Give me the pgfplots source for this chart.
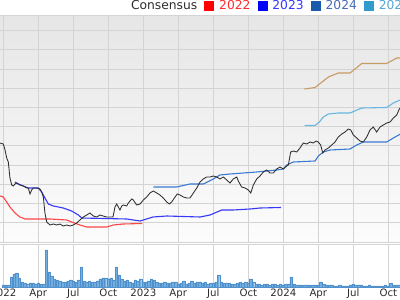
\documentclass[border=0pt]{standalone}
\usepackage{pgfplots}
\pgfplotsset{compat=1.18}
\usepackage{fontspec}
\setmainfont{DejaVu Sans}
\definecolor{gcol}{RGB}{212,212,212}
\definecolor{bgtop}{RGB}{230,230,230}
\definecolor{bgbot}{RGB}{252,252,252}
\definecolor{txt}{RGB}{45,45,45}
\definecolor{l22}{RGB}{255,70,70}
\definecolor{l23}{RGB}{55,55,250}
\definecolor{l24}{RGB}{60,122,210}
\definecolor{l25}{RGB}{105,182,225}
\definecolor{l26}{RGB}{200,155,100}
\definecolor{s22}{RGB}{255,0,0}
\definecolor{s23}{RGB}{0,0,255}
\definecolor{s24}{RGB}{25,90,170}
\definecolor{s25}{RGB}{50,155,205}
\definecolor{t22}{RGB}{255,45,45}
\definecolor{t23}{RGB}{55,55,255}
\definecolor{t24}{RGB}{70,110,180}
\definecolor{t25}{RGB}{85,165,215}
\definecolor{volfill}{RGB}{115,175,222}
\definecolor{voledge}{RGB}{80,145,205}
\begin{document}
\begin{tikzpicture}
\path[use as bounding box] (0,0) rectangle (400bp,300bp);
\clip (0,0) rectangle (400bp,300bp);
% ---------------- price panel ----------------
\begin{axis}[
  at={(0,284.3bp)}, anchor=north west,
  scale only axis, width=400bp, height=226.3bp,
  xmin=-0.283, xmax=34.0, ymin=0, ymax=226.3,
  axis line style={draw=none},
  xtick={0,3,...,33}, xticklabels={},
  ytick={0,19.2,38.4,57.6,76.8,96,115.2,134.4,153.6,172.8,192,211.2,226.3}, yticklabels={},
  major tick length=0pt,
  grid=major, grid style={gcol, line width=1bp},
  axis background/.style={top color=bgtop, bottom color=bgbot},
  clip=false,
  legend columns=-1,
  legend style={at={(axis description cs:0.3138,1.043)}, anchor=west,
    draw=none, fill=none, inner sep=0pt, outer sep=0pt,
    font=\fontsize{12.3bp}{14bp}\selectfont,
    nodes={inner sep=0pt, text=txt},
    /tikz/every even column/.append style={column sep=7bp},
    /tikz/every odd column/.append style={column sep=5.5bp}},
]
\addlegendimage{empty legend}
\addlegendentry{Consensus\hspace{7bp}}
\addlegendimage{legend image code/.code={\fill[s22] (0bp,-4.5bp) rectangle (9bp,4.5bp);}}
\addlegendentry{\textcolor{t22}{2022}}
\addlegendimage{legend image code/.code={\fill[s23] (0bp,-4.5bp) rectangle (9bp,4.5bp);}}
\addlegendentry{\textcolor{t23}{2023}}
\addlegendimage{legend image code/.code={\fill[s24] (0bp,-4.5bp) rectangle (9bp,4.5bp);}}
\addlegendentry{\textcolor{t24}{2024}}
\addlegendimage{legend image code/.code={\fill[s25] (0bp,-4.5bp) rectangle (9bp,4.5bp);}}
\addlegendentry{\textcolor{t25}{2025}}

% 2022 consensus
\addplot[l22, line width=1.1bp, forget plot] coordinates {
(-0.28,46) (0,45) (0.29,40) (0.57,35) (1.00,29) (1.43,25) (1.86,23) (4.00,23)
(5.43,22) (5.86,20) (6.57,17) (7.15,15) (8.86,15) (9.43,17) (10.26,18) (11.89,18.5)};
% 2023 consensus
\addplot[l23, line width=1.1bp, forget plot] coordinates {
(1.00,60) (1.29,58) (1.71,56) (2.14,54) (3.00,54) (3.29,50) (3.57,44) (3.86,38)
(4.29,36) (5.14,34) (5.86,31) (6.43,27) (6.72,24) (10.58,23) (11.72,21) (12.00,22)
(12.83,25) (14.01,26) (16.86,25) (17.72,27) (18.72,32) (19.69,32) (21.15,33) (22.00,34) (23.80,34.5)};
% 2024 consensus
\addplot[l24, line width=1.1bp, forget plot] coordinates {
(12.86,55) (14.86,55) (16.00,58) (17.14,58) (18.00,63) (18.57,67) (19.43,68) (20.57,69)
(21.72,70) (23.43,72) (24.00,73) (24.29,77) (24.86,80) (26.72,81) (27.00,86) (27.43,90)
(28.00,92) (29.72,93) (30.29,97) (30.86,100) (32.86,100) (33.43,104) (34.2,109)};
% 2025 consensus
\addplot[l25, line width=1.1bp, forget plot] coordinates {
(25.82,116.5) (26.72,116.5) (27.09,120) (27.43,125) (27.86,128) (28.71,129) (29.72,129)
(30.72,134) (32.86,134.5) (33.43,139) (34.2,143)};
% 2026 consensus
\addplot[l26, line width=1.1bp, forget plot] coordinates {
(25.80,153) (26.72,154.5) (27.32,160) (27.86,165) (28.71,169) (29.72,169) (30.72,178.5)
(32.86,178.5) (33.72,184) (34.2,184)};
% price
\addplot[black!82, line width=0.85bp, forget plot] coordinates {
(-0.28,99) (0,98) (0.15,92) (0.29,84) (0.43,80) (0.57,64) (0.72,57) (0.86,56) (1.00,58)
(1.15,59) (1.43,57) (1.71,56) (2.01,54) (2.14,54) (2.29,48) (2.43,52) (2.57,54) (2.86,54)
(3.15,53) (3.29,50) (3.43,45) (3.57,29) (3.72,20) (4.00,17) (4.29,18) (4.58,17) (4.86,18)
(5.14,16) (5.43,17) (5.72,16) (6.00,17) (6.29,19) (6.57,22) (6.86,25) (7.15,27) (7.43,29)
(7.71,26) (8.01,25) (8.29,27) (8.55,26) (8.86,25) (9.15,25) (9.40,25) (9.57,35) (9.72,38)
(10.00,32) (10.15,36) (10.29,37) (10.58,36) (10.71,39) (11.01,43) (11.14,42) (11.43,37)
(11.72,38) (12.00,42) (12.29,45) (12.57,49) (12.86,51) (13.15,49) (13.43,47) (13.71,44)
(14.01,40) (14.23,38) (14.43,40) (14.72,45) (14.91,48) (15.15,47) (15.43,45) (15.72,44)
(16.00,44) (16.29,49) (16.58,54) (16.86,60) (17.14,63) (17.43,65) (17.72,65) (18.00,66)
(18.29,65) (18.57,63) (18.86,65) (19.15,62) (19.43,59) (19.71,63) (20.01,65) (20.14,61)
(20.43,55) (20.72,54) (21.00,52) (21.21,49) (21.43,57) (21.72,63) (22.00,66) (22.29,70)
(22.58,72) (22.86,69) (23.14,69) (23.43,73) (23.72,75) (24.00,73) (24.29,76) (24.43,77)
(24.63,90) (24.86,91) (25.15,90) (25.43,94) (25.71,99) (26.01,98) (26.29,100) (26.57,99)
(26.80,101) (26.99,100) (27.20,97) (27.38,89) (27.57,92) (27.86,94) (28.15,97) (28.43,100)
(28.71,105) (29.01,108) (29.29,110) (29.57,113) (29.78,112) (30.00,107) (30.29,104)
(30.57,101) (30.86,100) (31.15,105) (31.43,112) (31.71,115) (32.00,110) (32.29,115)
(32.57,117) (32.86,119) (33.15,120) (33.43,124) (33.72,127) (33.94,133) (34.2,137)};
\end{axis}
% ---------------- volume panel ----------------
\begin{axis}[
  at={(0,55bp)}, anchor=north west,
  scale only axis, width=400bp, height=42bp,
  xmin=-0.283, xmax=34.0, ymin=0, ymax=42,
  axis line style={draw=none},
  xtick={0,3,...,33},
  xticklabels={2022,Apr,Jul,Oct,2023,Apr,Jul,Oct,2024,Apr,Jul,Oct},
  xticklabel style={anchor=base, yshift=-9.7bp, inner sep=0pt,
    font=\fontsize{10.2bp}{12bp}\selectfont, text=txt},
  ytick={42}, yticklabels={},
  major tick length=0pt,
  grid=major, grid style={gcol, line width=1bp},
  clip=false,
]
\addplot[ybar, bar width=2.4bp, fill=volfill, draw=voledge, line width=0.3bp]
 table[x expr=\coordindex*0.2306, y index=0, header=false] {
2
2
2
10
13
14
9
5
4
3
4
4
3
4
3
3
37
15
11
8
7
6
5
5
6
7
6
5
7
20
6
5
6
5
5
6
8
9
9
8
9
7
20
12
8
6
7
5
4
7
6
8
5
5
6
8
7
5
4
4
5
4
4
5
5
3
4
6
3
4
6
4
5
5
4
5
3
4
4
5
12
5
4
4
4
3
3
4
5
4
5
4
8
5
3
3
2
3
3
2
3
3
2
3
2
3
3
10
3
2
2
2
2
2
2
2
2
2
5
3
2
2
2
1
1
2
1
1
1
2
3
2
2
2
1
1
2
1
1
1
1
1
2
1
4
2
2
2
};
\end{axis}
\end{tikzpicture}
\end{document}
